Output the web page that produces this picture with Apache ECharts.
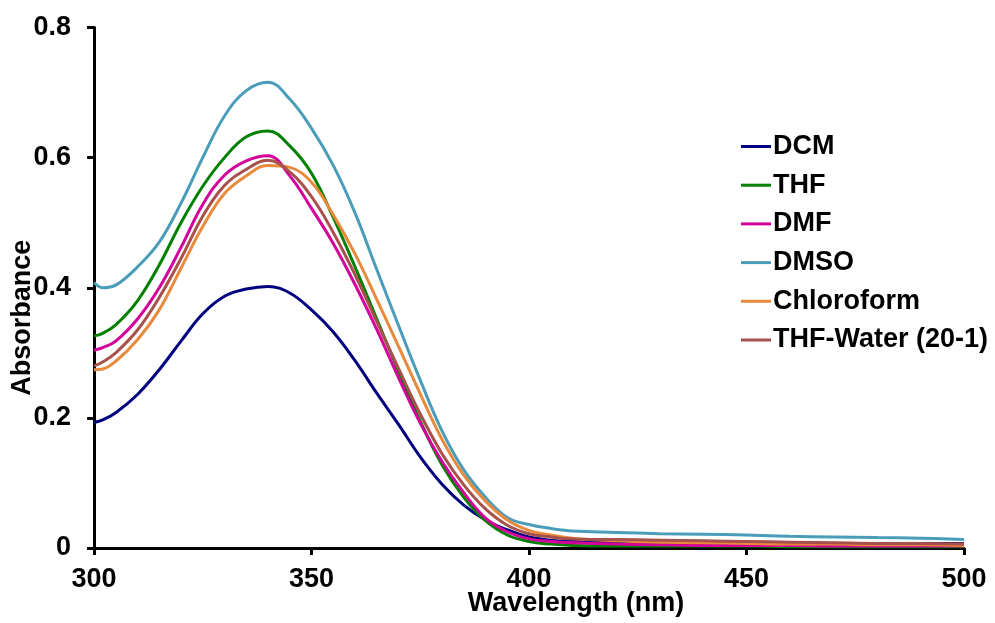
<!DOCTYPE html>
<html>
<head>
<meta charset="utf-8">
<title>Absorption spectra in different solvents</title>
<script src="https://cdn.jsdelivr.net/npm/echarts@6/dist/echarts.min.js"></script>
<style>
  html, body { margin: 0; padding: 0; background: #fff; }
  #chart { width: 995px; height: 623px; }
</style>
</head>
<body>
<div id="chart"></div>
<script>
// Wavelength grid (nm) shared by every spectrum
const wavelengths = [300, 302, 305, 310, 315, 320, 325, 330, 335, 340, 345, 350, 355, 360, 365, 370, 375, 380, 385, 390, 395, 400, 405, 410, 420, 430, 440, 450, 460, 470, 480, 490, 500];

// Absorbance of each solvent at those wavelengths
const dcm = [0.193, 0.197, 0.208, 0.236, 0.274, 0.318, 0.360, 0.387, 0.398, 0.402, 0.392, 0.366, 0.332, 0.288, 0.238, 0.190, 0.140, 0.098, 0.066, 0.043, 0.028, 0.017, 0.012, 0.010, 0.009, 0.008, 0.008, 0.008, 0.007, 0.007, 0.007, 0.007, 0.007];
const thf = [0.326, 0.330, 0.343, 0.380, 0.435, 0.500, 0.556, 0.600, 0.632, 0.641, 0.618, 0.576, 0.508, 0.432, 0.352, 0.272, 0.195, 0.128, 0.078, 0.042, 0.020, 0.010, 0.006, 0.004, 0.003, 0.003, 0.003, 0.003, 0.002, 0.002, 0.002, 0.002, 0.002];
const dmf = [0.304, 0.308, 0.318, 0.352, 0.400, 0.462, 0.528, 0.573, 0.595, 0.603, 0.572, 0.522, 0.468, 0.405, 0.336, 0.262, 0.192, 0.133, 0.085, 0.046, 0.025, 0.014, 0.010, 0.008, 0.006, 0.005, 0.004, 0.004, 0.004, 0.003, 0.003, 0.003, 0.003];
const dmso = [0.408, 0.400, 0.404, 0.432, 0.470, 0.530, 0.600, 0.664, 0.703, 0.716, 0.690, 0.645, 0.588, 0.515, 0.428, 0.342, 0.258, 0.180, 0.120, 0.078, 0.047, 0.036, 0.030, 0.026, 0.024, 0.022, 0.021, 0.020, 0.018, 0.017, 0.016, 0.015, 0.013];
const chloroform = [0.274, 0.275, 0.287, 0.320, 0.366, 0.430, 0.494, 0.545, 0.572, 0.588, 0.585, 0.562, 0.512, 0.452, 0.382, 0.310, 0.237, 0.167, 0.112, 0.072, 0.043, 0.027, 0.020, 0.015, 0.011, 0.009, 0.008, 0.007, 0.006, 0.006, 0.005, 0.005, 0.004];
const thfWater = [0.280, 0.286, 0.300, 0.335, 0.385, 0.445, 0.510, 0.557, 0.582, 0.596, 0.578, 0.540, 0.485, 0.420, 0.348, 0.276, 0.206, 0.145, 0.097, 0.060, 0.035, 0.022, 0.017, 0.014, 0.013, 0.012, 0.011, 0.010, 0.009, 0.008, 0.007, 0.007, 0.006];

const seriesNames = ['DCM', 'THF', 'DMF', 'DMSO', 'Chloroform', 'THF-Water (20-1)'];
const seriesValues = [dcm, thf, dmf, dmso, chloroform, thfWater];
const seriesColors = ['#000080', '#008000', '#D4009C', '#4A9DB8', '#E8893C', '#A8504C'];

// Axis ranges and tick steps
const xRange = [300, 500], xStep = 50;
const yRange = [0, 0.8], yStep = 0.2;

const FONT = "'Liberation Sans', Arial, sans-serif";

const chart = echarts.init(document.getElementById('chart'), null, { renderer: 'canvas' });

const series = seriesNames.map((name, i) => ({
  name: name,
  type: 'line',
  data: wavelengths.map((w, j) => [w, seriesValues[i][j]]),
  showSymbol: false,
  smooth: 0.4,
  lineStyle: { width: 3, color: seriesColors[i] },
  itemStyle: { color: seriesColors[i] },
  emphasis: { disabled: true },
  animation: false
}));

const axisCommon = {
  axisLine: { show: true, lineStyle: { color: '#000', width: 3 } },
  axisTick: { show: true, inside: false, length: 7, lineStyle: { color: '#000', width: 3 } },
  splitLine: { show: false },
  axisLabel: { color: '#000', fontFamily: FONT, fontWeight: 'bold', fontSize: 27 }
};

chart.setOption({
  backgroundColor: '#fff',
  animation: false,
  grid: { left: 94, right: 31, top: 27.5, bottom: 75, containLabel: false, outerBoundsMode: 'none' },
  legend: {
    orient: 'vertical',
    left: 736,
    top: 128,
    icon: 'rect',
    itemWidth: 30,
    itemHeight: 3,
    itemGap: 11.7,
    textStyle: { color: '#000', fontFamily: FONT, fontWeight: 'bold', fontSize: 27, lineHeight: 27, padding: [0, 0, 0, -3] },
    data: seriesNames
  },
  xAxis: Object.assign({}, axisCommon, {
    type: 'value',
    min: xRange[0], max: xRange[1], interval: xStep,
    name: 'Wavelength (nm)',
    nameLocation: 'middle',
    nameGap: 42,
    nameMoveOverlap: false,
    nameTextStyle: { color: '#000', fontFamily: FONT, fontWeight: 'bold', fontSize: 27, padding: [0, 0, 0, 94] },
    axisLabel: Object.assign({}, axisCommon.axisLabel, { margin: 18 })
  }),
  yAxis: Object.assign({}, axisCommon, {
    type: 'value',
    min: yRange[0], max: yRange[1], interval: yStep,
    name: 'Absorbance',
    nameLocation: 'middle',
    nameGap: 58,
    nameMoveOverlap: false,
    nameTextStyle: { color: '#000', fontFamily: FONT, fontWeight: 'bold', fontSize: 27, padding: [0, 60, 0, 0] },
    axisLabel: Object.assign({}, axisCommon.axisLabel, { margin: 23 })
  }),
  series: series
});
</script>
</body>
</html>
